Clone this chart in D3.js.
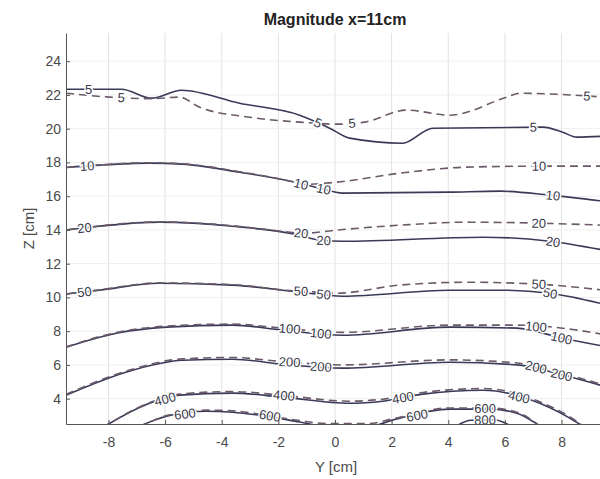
<!DOCTYPE html>
<html>
<head>
<meta charset="utf-8">
<script src="https://cdn.jsdelivr.net/npm/d3@7"></script>
<style>
  body { margin: 0; background: #fff; }
  text { font-family: "Liberation Sans", Arial, sans-serif; }
</style>
</head>
<body>
<script>
// tick values
var yTicks = [-8, -6, -4, -2, 0, 2, 4, 6, 8];
var zTicks = [4, 6, 8, 10, 12, 14, 16, 18, 20, 22, 24];

// contour polylines, [Y, Z] in cm
var solid5 = [[-9.5,22.34],[-7.54,22.34],[-6.48,21.81],[-5.42,22.28],[-3.37,21.51],[-1.25,20.8],[-0.72,20.44],[-0.19,20.03],[0.52,19.44],[2.39,19.14],[3.45,20.03],[7.34,20.09],[8.04,19.79],[8.54,19.5],[9.5,19.56]];
var dashed5 = [[-9.5,22.1],[-7.96,21.87],[-6.48,21.78],[-5.49,21.87],[-4.78,21.27],[-3.02,20.68],[-1.25,20.39],[0.16,20.27],[1.05,20.39],[2.53,21.1],[4.05,20.8],[6.06,21.87],[6.52,22.1],[8.4,21.99],[9.5,21.87]];
var solid10 = [[-9.5,17.7],[-8.32,17.84],[-6.55,17.96],[-5.39,17.9],[-3.37,17.42],[-1.25,16.77],[-0.54,16.47],[0.27,16.18],[4.05,16.24],[5.82,16.3],[7.58,16.06],[9.5,15.7]];
var dashed10 = [[-9.5,17.7],[-8.32,17.86],[-6.55,17.98],[-5.39,17.92],[-3.37,17.45],[-1.5,16.85],[-1.14,16.7],[0.06,16.83],[2.28,17.36],[4.65,17.72],[7.23,17.78],[9.5,17.78]];
var solid20 = [[-9.5,14.0],[-8.32,14.22],[-6.2,14.46],[-3.62,14.22],[-1.25,13.69],[-0.54,13.39],[0.27,13.33],[5.22,13.57],[7.58,13.33],[9.5,12.8]];
var dashed20 = [[-9.5,14.0],[-8.32,14.24],[-6.2,14.48],[-3.62,14.25],[-1.5,13.85],[-1.14,13.8],[0.06,13.99],[2.28,14.28],[4.65,14.46],[7.23,14.4],[9.5,14.28]];
var solid50 = [[-9.5,10.2],[-8.32,10.43],[-6.2,10.84],[-3.62,10.73],[-1.25,10.31],[0.27,10.07],[4.05,10.43],[5.82,10.43],[7.58,10.25],[9.5,9.6]];
var dashed50 = [[-9.5,10.2],[-8.32,10.45],[-6.2,10.86],[-3.62,10.76],[-1.5,10.4],[-1.14,10.37],[0.06,10.25],[2.28,10.73],[4.65,10.9],[7.23,10.78],[9.5,10.43]];
var solid100 = [[-9.5,7.05],[-7.72,7.88],[-5.95,8.24],[-3.62,8.36],[-1.85,8.06],[0.27,7.76],[4.05,8.24],[6.42,8.18],[8.0,7.6],[9.5,7.11]];
var dashed100 = [[-9.5,7.07],[-7.72,7.92],[-5.95,8.3],[-3.62,8.42],[-1.85,8.18],[0.27,7.93],[4.05,8.36],[6.42,8.36],[8.4,8.1],[9.5,7.8]];
var solid200 = [[-9.5,4.21],[-7.15,5.69],[-5.39,6.28],[-3.62,6.34],[-1.85,6.04],[0.27,5.81],[4.05,6.16],[6.52,5.99],[8.04,5.4],[9.5,4.74]];
var dashed200 = [[-9.5,4.25],[-7.15,5.75],[-5.39,6.36],[-3.62,6.44],[-1.85,6.2],[0.27,6.0],[4.05,6.3],[6.52,6.1],[8.04,5.5],[9.5,4.8]];
var solid400 = [[-8.2,2.3],[-6.55,3.73],[-5.49,4.21],[-3.62,4.33],[-1.85,4.09],[0.52,3.73],[1.68,3.85],[3.1,4.27],[5.22,4.5],[7.23,3.73],[8.75,2.37],[8.9,2.2]];
var dashed400 = [[-8.2,2.3],[-6.55,3.76],[-5.49,4.27],[-3.62,4.42],[-1.85,4.2],[0.52,3.85],[1.68,3.97],[3.1,4.37],[5.22,4.6],[7.23,3.82],[8.75,2.4],[8.9,2.2]];
var solid600 = [[-7.0,2.3],[-5.95,2.96],[-4.54,3.26],[-3.62,3.2],[-2.42,2.96],[-1.25,2.62],[-0.3,2.35],[1.2,2.35],[2.03,2.73],[4.05,3.38],[5.46,3.38],[6.42,3.14],[7.3,2.3]];
var dashed600 = [[-6.9,2.3],[-5.95,3.0],[-4.54,3.32],[-3.62,3.28],[-2.42,3.02],[-1.25,2.7],[-0.3,2.53],[1.2,2.53],[2.03,2.8],[4.05,3.45],[5.46,3.45],[6.42,3.2],[7.3,2.3]];
var solid800 = [[4.2,2.3],[4.8,2.72],[5.6,2.75],[6.3,2.3]];

// where the inline level labels sit (Y in cm)
var solid5Lab = [-8.7, -0.6, 7.0], dashed5Lab = [-7.55, 0.6, 8.9];
var solid10Lab = [-8.75, -0.4, 7.7], dashed10Lab = [-1.2, 7.2];
var solid20Lab = [-8.85, -0.4, 7.7], dashed20Lab = [-1.2, 7.2];
var solid50Lab = [-8.85, -0.4, 7.6], dashed50Lab = [-1.2, 7.2];
var solid100Lab = [-0.5, 8.0], dashed100Lab = [-1.6, 7.1];
var solid200Lab = [-0.5, 8.0], dashed200Lab = [-1.6, 7.1];
var solid400Lab = [-6.0, 2.4], dashed400Lab = [-1.8, 6.5];
var solid600Lab = [-5.3, 2.9], dashed600Lab = [-2.3, 5.3];
var solid800Lab = [5.3];

var contours = [
  {level: 5, dash: false, pts: solid5, lab: solid5Lab},
  {level: 5, dash: true, pts: dashed5, lab: dashed5Lab},
  {level: 10, dash: false, pts: solid10, lab: solid10Lab},
  {level: 10, dash: true, pts: dashed10, lab: dashed10Lab},
  {level: 20, dash: false, pts: solid20, lab: solid20Lab},
  {level: 20, dash: true, pts: dashed20, lab: dashed20Lab},
  {level: 50, dash: false, pts: solid50, lab: solid50Lab},
  {level: 50, dash: true, pts: dashed50, lab: dashed50Lab},
  {level: 100, dash: false, pts: solid100, lab: solid100Lab},
  {level: 100, dash: true, pts: dashed100, lab: dashed100Lab},
  {level: 200, dash: false, pts: solid200, lab: solid200Lab},
  {level: 200, dash: true, pts: dashed200, lab: dashed200Lab},
  {level: 400, dash: false, pts: solid400, lab: solid400Lab},
  {level: 400, dash: true, pts: dashed400, lab: dashed400Lab},
  {level: 600, dash: false, pts: solid600, lab: solid600Lab},
  {level: 600, dash: true, pts: dashed600, lab: dashed600Lab},
  {level: 800, dash: false, pts: solid800, lab: solid800Lab}
];

var plotLeft = 66, plotRight = 604, plotTop = 33, plotBottom = 424;

var x = d3.scaleLinear().domain([-9.5, 9.5]).range([plotLeft, plotRight]);
var y = d3.scaleLinear().domain([2.5, 25.67]).range([plotBottom, plotTop]);

var svg = d3.select("body").append("svg")
  .attr("width", 600)
  .attr("height", 479);

svg.append("defs").append("clipPath").attr("id", "plotclip")
  .append("rect")
  .attr("x", plotLeft).attr("y", plotTop)
  .attr("width", plotRight - plotLeft).attr("height", plotBottom - plotTop);

// grid
svg.append("g").selectAll("line")
  .data(yTicks).enter().append("line")
  .attr("x1", function(d) { return x(d); })
  .attr("x2", function(d) { return x(d); })
  .attr("y1", plotTop).attr("y2", plotBottom)
  .attr("stroke", "#e2e2e2");
svg.append("g").selectAll("line")
  .data(zTicks).enter().append("line")
  .attr("y1", function(d) { return y(d); })
  .attr("y2", function(d) { return y(d); })
  .attr("x1", plotLeft).attr("x2", plotRight)
  .attr("stroke", "#efefef");

var line = d3.line()
  .x(function(d) { return x(d[0]); })
  .y(function(d) { return y(d[1]); })
  .curve(d3.curveMonotoneX);

var plot = svg.append("g").attr("clip-path", "url(#plotclip)");

// contour lines
plot.selectAll("path.contour")
  .data(contours).enter().append("path")
  .attr("class", "contour")
  .attr("d", function(d) { return line(d.pts); })
  .attr("fill", "none")
  .attr("stroke", function(d) { return d.dash ? "#6c5a6a" : "#3a3a58"; })
  .attr("stroke-width", 1.6)
  .attr("stroke-dasharray", function(d) { return d.dash ? "8,5" : null; });

// find position and angle on a polyline for a given Y
function placeOn(pts, yv) {
  for (var i = 0; i < pts.length - 1; i++) {
    var a = pts[i], b = pts[i + 1];
    if (yv >= a[0] && yv <= b[0]) {
      var t = (yv - a[0]) / (b[0] - a[0]);
      var zv = a[1] + t * (b[1] - a[1]);
      var ang = Math.atan2(y(b[1]) - y(a[1]), x(b[0]) - x(a[0])) * 180 / Math.PI;
      return [x(yv), y(zv), ang];
    }
  }
  return null;
}

var labels = [];
contours.forEach(function(c) {
  c.lab.forEach(function(yv) {
    var p = placeOn(c.pts, yv);
    if (p) labels.push({text: c.level, px: p[0], py: p[1], ang: p[2]});
  });
});

plot.selectAll("text.clabel")
  .data(labels).enter().append("text")
  .attr("class", "clabel")
  .attr("transform", function(d) { return "translate(" + d.px + "," + d.py + ") rotate(" + d.ang + ")"; })
  .attr("text-anchor", "middle")
  .attr("dy", "0.35em")
  .attr("font-size", "13px")
  .attr("fill", "#3a3a4a")
  .attr("stroke", "#fff")
  .attr("stroke-width", 3)
  .attr("paint-order", "stroke")
  .text(function(d) { return d.text; });

// axes
var xAxis = svg.append("g")
  .attr("transform", "translate(0," + plotBottom + ")")
  .call(d3.axisBottom(x).tickValues(yTicks).tickFormat(function(d) { return String(d); })
    .tickSizeInner(-4).tickSizeOuter(0).tickPadding(13));
var yAxis = svg.append("g")
  .attr("transform", "translate(" + plotLeft + ",0)")
  .call(d3.axisLeft(y).tickValues(zTicks).tickFormat(function(d) { return String(d); })
    .tickSizeInner(-4).tickSizeOuter(0).tickPadding(5));

[xAxis, yAxis].forEach(function(g) {
  g.select(".domain").attr("stroke", "#555");
  g.selectAll(".tick line").attr("stroke", "#555");
  g.selectAll(".tick text")
    .attr("fill", "#4a4a4a")
    .attr("font-size", "14px")
    .attr("font-family", "Liberation Sans, Arial, sans-serif");
});

// title and axis labels
svg.append("text")
  .attr("x", 335).attr("y", 25)
  .attr("text-anchor", "middle")
  .attr("font-size", "16px")
  .attr("font-weight", "bold")
  .attr("fill", "#222")
  .text("Magnitude x=11cm");

svg.append("text")
  .attr("x", 336).attr("y", 472)
  .attr("text-anchor", "middle")
  .attr("font-size", "15px")
  .attr("fill", "#4a4a4a")
  .text("Y [cm]");

svg.append("text")
  .attr("transform", "translate(34," + ((plotTop + plotBottom) / 2) + ") rotate(-90)")
  .attr("text-anchor", "middle")
  .attr("font-size", "15px")
  .attr("fill", "#4a4a4a")
  .text("Z [cm]");
</script>
</body>
</html>
